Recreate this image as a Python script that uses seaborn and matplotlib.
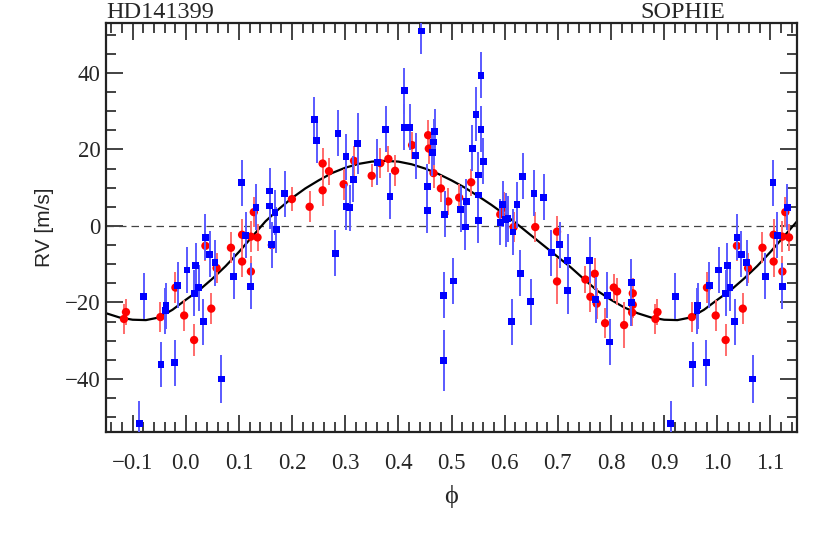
import numpy as np
import pandas as pd
import seaborn as sns
import matplotlib.pyplot as plt
from matplotlib.ticker import MultipleLocator

# blue squares (orbital phase in [0, 1), RV in m/s, error in m/s)
blue_phase = [0.0025, 0.019, 0.024, 0.016, 0.033, 0.037, 0.045, 0.055, 0.0666, 0.0904,
              0.105, 0.113, 0.1225, 0.132, 0.158, 0.158, 0.168, 0.170, 0.162, 0.1865,
              0.242, 0.246, 0.2864, 0.2814, 0.3015, 0.3015, 0.3084, 0.315, 0.3235, 0.360,
              0.376, 0.3844, 0.4114, 0.4114, 0.422, 0.4328, 0.4434, 0.4541, 0.4541, 0.4642,
              0.4667, 0.4686, 0.487, 0.4855, 0.4855, 0.503, 0.5175, 0.5257, 0.5276, 0.5389,
              0.546, 0.5502, 0.5502, 0.5502, 0.5553, 0.5553, 0.5597, 0.5917, 0.5961, 0.6018,
              0.6062, 0.6131, 0.6156, 0.6231, 0.6294, 0.6338, 0.6489, 0.6551, 0.6734, 0.6878,
              0.7035, 0.7186, 0.7186, 0.760, 0.7713, 0.7933, 0.7977, 0.8385, 0.8379, 0.9208,
              0.9127, 0.9535, 0.963, 0.9617, 0.9792, 0.985]
blue_rv = [-11.5, -10.4, -16.1, -17.6, -25.0, -3.0, -7.4, -9.6, -40.0, -13.2,
           11.3, -2.4, -15.8, 4.9, 9.1, 5.2, 3.5, -1.0, -4.9, 8.4,
           27.7, 22.4, 24.2, -7.1, 18.1, 5.0, 4.8, 12.2, 21.6, 16.6,
           25.2, 7.7, 35.3, 25.8, 25.8, 18.3, 50.9, 10.2, 4.1, 19.1,
           21.9, 24.6, 3.0, -18.1, -35.2, -14.4, 4.3, -0.3, 6.3, 20.3,
           29.2, 13.3, 8.1, 1.5, 39.3, 25.2, 16.9, 1.0, 5.7, 1.6,
           1.9, -25.0, -1.6, 5.5, -12.4, 13.0, -19.8, 8.5, 7.5, -7.0,
           -4.9, -9.1, -16.9, -9.0, -19.3, -18.1, -30.3, -14.7, -20.1, -18.4,
           -51.7, -36.2, -20.8, -22.1, -35.7, -15.5]
blue_err = [6, 6, 6, 6, 6, 6, 6, 6, 6.2, 6,
            6, 6, 6, 6, 6, 6, 6, 6, 6, 6,
            6, 6, 6, 6, 6, 6, 6, 6, 8, 6,
            6, 6, 6, 6, 6, 6, 6, 6, 6, 6,
            6, 6, 6, 6, 8, 6, 6, 6, 6, 6,
            7, 6, 6, 6, 6, 6, 6, 6, 6, 7,
            6, 6, 6, 6, 6, 6, 6, 6, 6, 6,
            6, 7, 6, 6, 6, 6, 6, 6, 6, 6,
            6, 6, 6, 6, 6, 6]

# red circles
red_phase = [0.997, 0.0157, 0.037, 0.048, 0.058, 0.085, 0.106, 0.106, 0.1225, 0.1225,
             0.128, 0.135, 0.162, 0.1997, 0.233, 0.2575, 0.2575, 0.2695, 0.297, 0.3166,
             0.3498, 0.3661, 0.3812, 0.3938, 0.4258, 0.456, 0.4573, 0.4661, 0.480, 0.494,
             0.5144, 0.537, 0.5917, 0.5986, 0.6168, 0.6576, 0.6985, 0.6985, 0.7519, 0.7613,
             0.7694, 0.7732, 0.7889, 0.8052, 0.8115, 0.8247, 0.841, 0.841, 0.8398, 0.8837,
             0.8875, 0.9523, 0.9806]
red_rv = [-23.4, -29.8, -5.2, -21.6, -11.0, -5.7, -2.3, -9.3, -11.9, -2.8,
          3.6, -3.0, -5.0, 7.0, 5.0, 16.3, 9.3, 14.3, 10.9, 17.0,
          13.1, 16.4, 17.5, 14.4, 21.1, 23.7, 20.2, 13.8, 9.8, 6.4,
          7.4, 11.4, 3.0, 4.8, -0.3, -0.3, -1.5, -14.5, -14.0, -18.5,
          -12.5, -20.3, -25.4, -16.1, -17.1, -25.9, -17.6, -20.6, -22.6, -24.3,
          -22.5, -23.8, -16.1]
red_err = [4, 4.2, 4, 4, 4, 4, 4, 4, 4, 4,
           4, 3.5, 4, 3.2, 4, 4, 4, 3.5, 4, 4,
           3, 4, 3.5, 4, 3.5, 4, 4, 4, 3.5, 3.5,
           3.5, 3.5, 3.5, 4, 4, 4, 4, 6, 3.5, 4,
           4, 4, 4, 3.5, 3.5, 6, 4, 3.5, 3.5, 4,
           3.5, 4, 4]

# Keplerian fit
model_phase = [0.000, 0.025, 0.050, 0.075, 0.100, 0.125, 0.150, 0.175, 0.200, 0.225,
               0.250, 0.275, 0.300, 0.325, 0.350, 0.375, 0.400, 0.425, 0.450, 0.475,
               0.500, 0.525, 0.550, 0.575, 0.600, 0.625, 0.650, 0.675, 0.700, 0.725,
               0.750, 0.775, 0.800, 0.825, 0.850, 0.875, 0.900, 0.925, 0.950, 0.975]
model_rv = [-19.3, -16.8, -13.8, -10.5, -6.8, -2.8, 1.2, 4.4, 7.3, 9.8,
            11.9, 13.8, 15.2, 16.2, 16.8, 17.0, 16.8, 16.1, 15.0, 13.6,
            11.9, 10.0, 7.8, 5.5, 3.0, 0.3, -2.5, -5.3, -8.1, -10.9,
            -14.0, -17.0, -19.3, -21.3, -22.8, -23.9, -24.5, -24.6, -23.9, -21.9]

xtick_vals = [-0.1, 0.0, 0.1, 0.2, 0.3, 0.4, 0.5, 0.6, 0.7, 0.8, 0.9, 1.0, 1.1]
xtick_labels = ["\u22120.1", "0.0", "0.1", "0.2", "0.3", "0.4", "0.5", "0.6",
                "0.7", "0.8", "0.9", "1.0", "1.1"]
ytick_vals = [-40, -20, 0, 20, 40]


def wrap(phase, rv, err=None, lo=-0.2, hi=1.2):
    # repeat the phase-folded data one cycle either side
    frames = []
    for shift in (-1, 0, 1):
        d = pd.DataFrame({"phase": np.array(phase) + shift, "rv": rv})
        if err is not None:
            d["err"] = err
        frames.append(d)
    d = pd.concat(frames)
    return d[(d.phase >= lo) & (d.phase <= hi)].sort_values("phase")


blue = wrap(blue_phase, blue_rv, blue_err)
red = wrap(red_phase, red_rv, red_err)
model = wrap(model_phase, model_rv)

sns.set_style("ticks")
plt.rcParams["font.family"] = ["Liberation Serif", "DejaVu Serif"]

fig = plt.figure(figsize=(8.31, 5.39), dpi=100)
ax = fig.add_axes([0.1276, 0.198, 0.8315, 0.760])

ax.axhline(0, color="#444444", lw=0.9, ls=(0, (6, 4)), zorder=1)
sns.lineplot(data=model, x="phase", y="rv", color="black", lw=1.6, sort=False,
             ax=ax, zorder=2)

ax.errorbar(red.phase, red.rv, yerr=red.err, fmt="none", ecolor="#ff6b6b",
            elinewidth=1.4, capsize=0, zorder=3)
sns.scatterplot(data=red, x="phase", y="rv", marker="o", s=36, color="#ff0000",
                edgecolor="none", ax=ax, zorder=4)
ax.errorbar(blue.phase, blue.rv, yerr=blue.err, fmt="none", ecolor="#5a5aff",
            elinewidth=1.4, capsize=0, zorder=5)
sns.scatterplot(data=blue, x="phase", y="rv", marker="s", s=24, color="#0000ff",
                edgecolor="none", ax=ax, zorder=6)

ax.set_xlim(-0.15, 1.15)
ax.set_ylim(-53.9, 53.1)
ax.set_xticks(xtick_vals)
ax.set_xticklabels(xtick_labels)
ax.set_yticks(ytick_vals)
ax.xaxis.set_minor_locator(MultipleLocator(0.02))
ax.yaxis.set_minor_locator(MultipleLocator(5))
ax.tick_params(which="both", direction="in", top=True, right=True, width=1.2,
               color="#222222", labelsize=16.5)
ax.tick_params(axis="x", which="both", pad=15)
ax.tick_params(axis="y", which="both", pad=4)
ax.tick_params(which="major", length=12)
ax.tick_params(which="minor", length=7)
for sp in ax.spines.values():
    sp.set_linewidth(1.6)
    sp.set_color("#222222")

ax.set_xlabel("\u03d5", fontsize=19, labelpad=8)
ax.set_ylabel("RV [m/s]", fontsize=15, family="Liberation Sans", labelpad=8)
ax.text(0.0, 1.012, "HD141399", transform=ax.transAxes, ha="left", va="baseline",
        fontsize=17.5)
ax.text(0.896, 1.012, "SOPHIE", transform=ax.transAxes, ha="right", va="baseline",
        fontsize=17.5)

fig.savefig("out.png", dpi=100)
